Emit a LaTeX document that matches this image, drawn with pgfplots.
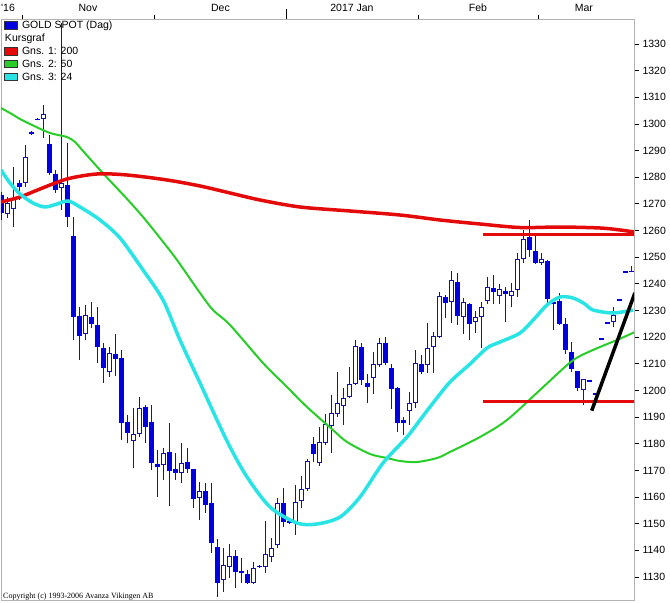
\documentclass[border=0pt]{standalone}
\usepackage{pgfplots}
\pgfplotsset{compat=1.18}
\usepackage{pgfplotstable}
\usepackage{fontspec}
\setmainfont{Liberation Sans}
\newfontfamily\serif{Liberation Serif}

\definecolor{cfill}{RGB}{0,0,225}
\definecolor{cline}{RGB}{20,20,150}
\definecolor{mared}{RGB}{228,10,10}
\definecolor{magreen}{RGB}{40,205,40}
\definecolor{macyan}{RGB}{40,228,228}
\definecolor{framegray}{RGB}{178,178,178}

% down (filled) candles: k O H L C
\pgfplotstableread{
k O H L C
0 1273.3 1274.5 1264.0 1266.6
3 1277.8 1279.0 1271.5 1276.3
5 1297.0 1297.3 1296.0 1296.2
6 1302.0 1302.2 1301.5 1301.5
8 1292.5 1295.9 1280.8 1281.6
9 1281.2 1282.7 1274.1 1275.2
11 1277.1 1292.8 1261.3 1265.1
12 1257.9 1265.1 1218.9 1227.5
13 1227.9 1231.3 1211.4 1220.4
15 1227.5 1233.2 1223.4 1224.9
16 1224.5 1231.3 1210.3 1216.3
17 1215.9 1217.8 1202.8 1208.4
19 1213.7 1221.2 1205.4 1211.8
20 1212.2 1215.2 1181.4 1187.8
21 1188.2 1190.8 1180.3 1184.0
24 1193.8 1194.5 1180.3 1186.3
25 1188.2 1194.5 1170.1 1172.8
26 1172.4 1177.7 1160.0 1171.3
28 1176.9 1187.8 1156.6 1169.8
29 1170.5 1176.5 1166.4 1169.0
31 1173.1 1178.4 1169.0 1170.5
32 1170.5 1170.6 1155.9 1159.3
34 1162.3 1165.3 1154.0 1157.0
35 1157.8 1165.3 1139.0 1142.8
36 1141.3 1144.3 1122.5 1127.8
39 1137.9 1140.1 1125.9 1131.9
40 1132.3 1137.1 1127.8 1131.5
41 1131.1 1132.6 1127.4 1127.8
43 1134.3 1134.5 1133.5 1133.7
47 1157.8 1163.4 1148.8 1150.6
48 1151.0 1151.3 1150.0 1150.3
52 1179.9 1182.5 1173.1 1176.2
60 1216.3 1217.8 1202.0 1203.9
61 1202.8 1206.2 1195.3 1201.3
64 1217.8 1220.0 1209.5 1210.3
65 1208.4 1209.9 1193.0 1200.5
66 1200.9 1201.2 1184.4 1187.8
67 1188.9 1190.0 1183.3 1187.8
70 1209.9 1213.3 1206.2 1206.9
74 1235.1 1235.8 1227.2 1232.8
76 1240.7 1244.1 1224.5 1227.9
78 1232.4 1232.8 1218.9 1224.9
82 1238.5 1243.3 1232.4 1236.9
84 1237.3 1238.8 1225.7 1236.2
88 1257.6 1264.0 1250.1 1252.7
89 1252.3 1257.9 1247.5 1247.8
91 1248.6 1248.9 1232.8 1234.3
92 1233.2 1233.9 1222.7 1232.4
93 1233.6 1236.5 1224.5 1224.9
94 1224.9 1227.2 1213.7 1215.2
95 1214.4 1218.2 1207.0 1208.0
96 1207.3 1207.4 1199.8 1200.9
98 1203.8 1203.9 1203.1 1203.2
99 1199.0 1199.1 1198.3 1198.4
100 1219.6 1219.7 1218.9 1219.0
101 1225.6 1225.7 1224.9 1225.0
103 1234.2 1234.3 1233.5 1233.6
104 1244.7 1244.8 1244.0 1244.1
105 1245.0 1246.7 1244.3 1244.4
}\canddown

% up (hollow) candles: k O H L C
\pgfplotstableread{
k O H L C
1 1266.2 1272.6 1264.7 1270.3
2 1268.1 1283.8 1261.3 1272.2
4 1277.8 1292.1 1276.3 1287.6
7 1301.9 1307.1 1294.7 1303.7
10 1276.0 1337.8 1267.7 1277.8
14 1221.2 1232.1 1218.9 1228.3
18 1206.9 1216.3 1205.0 1214.0
22 1181.0 1193.4 1170.9 1183.7
23 1183.7 1197.5 1182.5 1193.4
27 1172.0 1178.4 1166.4 1176.5
30 1169.0 1180.3 1165.3 1172.8
33 1159.6 1165.6 1151.4 1162.3
37 1128.9 1140.9 1124.4 1134.5
38 1133.8 1142.4 1129.6 1137.9
42 1127.8 1135.6 1127.4 1133.4
44 1133.8 1151.0 1131.5 1138.6
45 1137.5 1144.6 1135.6 1140.9
46 1142.0 1159.6 1140.9 1157.8
49 1150.3 1164.5 1145.8 1158.1
50 1158.5 1167.9 1155.9 1163.0
51 1163.0 1174.3 1162.3 1173.5
53 1172.8 1186.3 1171.6 1180.7
54 1180.3 1191.2 1179.5 1187.4
55 1186.7 1198.3 1176.5 1191.5
56 1191.2 1206.9 1190.0 1195.3
57 1194.2 1200.9 1187.0 1197.2
58 1197.5 1208.8 1197.2 1202.4
59 1202.4 1218.9 1202.0 1216.7
62 1204.7 1214.4 1198.7 1209.9
63 1209.5 1219.7 1208.8 1217.8
68 1192.3 1199.4 1187.0 1195.3
69 1195.3 1215.2 1193.4 1210.3
71 1209.5 1225.3 1206.5 1215.9
72 1216.3 1221.9 1206.5 1220.4
73 1220.0 1236.9 1219.7 1235.5
75 1233.2 1244.8 1225.3 1241.4
77 1227.5 1234.7 1221.2 1233.2
79 1225.7 1229.8 1221.5 1227.5
80 1227.5 1233.2 1215.9 1231.3
81 1233.6 1242.6 1232.4 1238.8
83 1235.5 1239.9 1232.4 1238.1
85 1235.5 1240.3 1231.3 1237.3
86 1237.7 1251.6 1235.1 1249.3
87 1249.3 1260.2 1247.8 1256.8
90 1247.8 1251.6 1247.1 1249.3
97 1200.2 1204.3 1194.5 1204.3
102 1225.7 1231.3 1223.8 1228.3
}\candup

\pgfplotsset{
  swatch/.style={legend image code/.code={\draw[fill=#1, draw=black!80, line width=0.8pt] (0pt,-3pt) rectangle (13pt,4.5pt);}},
  candle/.style n args={2}{forget plot, draw=none, mark=none,
    error bars/.cd, y dir=plus, y explicit, error mark=none,
    error bar style={draw=#1, line width=#2}},
}

\begin{document}
\begin{tikzpicture}
\useasboundingbox (-1pt,-3pt) rectangle (669pt,600pt);
\begin{axis}[
  at={(0pt,0pt)}, anchor=south west,
  scale only axis, width=633pt, height=581pt,
  xmin=-0.05, xmax=105.45, ymin=1121.37, ymax=1339.38,
  axis line style={framegray, line width=0.8pt},
  tick style={black, line width=0.8pt},
  tick align=outside,
  major tick length=5pt,
  minor tick length=4pt,
  xtick pos=upper, xticklabel pos=upper,
  ytick pos=right, yticklabel pos=right,
  xtick={1.12,14.45,36.53,58.45,79.45,97.1},
  xticklabels={\textquotesingle16, Nov, Dec, 2017 Jan, Feb, Mar},
  major x tick style={draw=none},
  minor xtick={3.5,25.5,47.5,69.5,89.5},
  xticklabel style={yshift=-1pt},
  ytick={1130,1140,...,1330},
  ticklabel style={font=\fontsize{10.5}{12}\selectfont},
  /pgf/number format/.cd, assume math mode=true, 1000 sep={},
  /pgfplots/.cd,
  legend style={at={(0,1)}, anchor=north west, xshift=3pt, yshift=-2pt,
    draw=none, fill=none, inner sep=0pt, row sep=2.9pt, column sep=4pt,
    font=\fontsize{10.5}{12}\selectfont,
    nodes={inner sep=0pt, text height=7.5pt, text depth=2.5pt}},
  legend cell align=left,
]
\addlegendimage{swatch=cfill}
\addlegendentry{GOLD SPOT (Dag)}
\addlegendimage{empty legend}
\addlegendentry{\hspace*{-17pt}Kursgraf}
\addlegendimage{swatch=mared}
\addlegendentry{Gns. 1: 200}
\addlegendimage{swatch=magreen}
\addlegendentry{Gns. 2: 50}
\addlegendimage{swatch=macyan}
\addlegendentry{Gns. 3: 24}

% wicks
\addplot[candle={cline}{1pt}]
  table[x=k, y=L, y error plus expr=\thisrow{H}-\thisrow{L}] {\canddown};
\addplot[candle={cline}{1pt}]
  table[x=k, y=L, y error plus expr=\thisrow{H}-\thisrow{L}] {\candup};
% bodies
\addplot[candle={cfill}{5pt}]
  table[x=k, y=C, y error plus expr=\thisrow{O}-\thisrow{C}] {\canddown};
\addplot[candle={cline}{5pt}]
  table[x=k, y=O, y error plus expr=\thisrow{C}-\thisrow{O}] {\candup};
\addplot[candle={white}{3pt}]
  table[x=k, y expr=\thisrow{O}+0.375, y error plus expr=\thisrow{C}-\thisrow{O}-0.75] {\candup};

% Gns. 2: 50
\addplot[forget plot, magreen, line width=2pt, smooth] coordinates {
(-0.05,1305.99) (1.45,1304.11) (3.12,1301.86) (4.78,1299.98) (8.12,1296.60)
(10.95,1295.10) (12.28,1293.23) (13.62,1289.85) (16.45,1282.72) (18.62,1277.47)
(21.12,1271.46) (23.62,1265.09) (26.45,1257.21) (29.28,1248.95) (33.12,1236.57)
(35.28,1230.19) (38.12,1224.56) (43.62,1210.30) (47.28,1202.05) (50.95,1193.79)
(55.28,1185.16) (57.62,1180.66) (61.45,1176.16) (64.28,1174.65) (66.45,1173.53)
(69.28,1173.15) (72.62,1174.65) (74.78,1176.91) (79.78,1182.53) (84.28,1188.91)
(89.78,1200.17) (95.12,1211.05) (98.62,1215.18) (102.62,1218.93) (105.62,1221.93)
};
% Gns. 1: 200
\addplot[forget plot, mared, line width=3.5pt, smooth] coordinates {
(-0.05,1270.71) (3.12,1272.59) (6.45,1275.59) (10.95,1279.35) (15.95,1281.22)
(20.95,1280.85) (27.62,1278.97) (33.12,1276.72) (38.12,1274.09) (43.12,1271.46)
(49.78,1268.84) (58.12,1267.34) (66.45,1265.83) (73.12,1263.96) (79.78,1262.46)
(86.45,1261.14) (93.12,1261.33) (99.78,1260.96) (103.12,1260.21) (105.45,1259.46)
};
% Gns. 3: 24
\addplot[forget plot, macyan, line width=3.5pt, smooth] coordinates {
(-0.05,1282.72) (1.45,1277.84) (3.12,1273.72) (5.28,1270.34) (7.28,1268.84)
(9.28,1269.96) (11.12,1271.09) (13.12,1268.84) (16.45,1263.96) (19.78,1257.21)
(23.62,1245.20) (26.95,1233.94) (29.78,1218.93) (33.12,1202.80) (35.95,1188.91)
(38.12,1178.78) (40.95,1167.53) (44.78,1156.27) (49.28,1150.26) (52.62,1149.89)
(56.45,1152.52) (59.78,1160.02) (63.62,1172.78) (67.62,1182.53) (69.78,1188.91)
(71.95,1195.29) (74.78,1203.17) (78.12,1209.93) (80.95,1215.93) (83.12,1218.18)
(86.45,1221.56) (88.95,1227.19) (90.95,1232.06) (93.12,1235.07) (95.28,1234.69)
(97.28,1232.44) (98.62,1230.19) (101.95,1229.06) (105.28,1230.19)
};
% drawn support / resistance lines
\addplot[forget plot, mared, line width=3pt] coordinates {(80.28,1258.7) (106,1258.7)};
\addplot[forget plot, mared, line width=3pt] coordinates {(80.28,1196.0) (106,1196.0)};
\addplot[forget plot, black, line width=3.5pt] coordinates {(98.4,1192.4) (105.6,1236.6)};

\coordinate (jan) at (axis cs:47.5,1339.38);
\node[anchor=base west, font=\serif\fontsize{8}{9}\selectfont, inner sep=0pt, xshift=2pt, yshift=2pt]
  at (rel axis cs:0,0) {Copyright (c) 1993-2006 Avanza Vikingen AB};
\end{axis}
\draw[black, line width=1pt] (jan) -- ++(0pt,10pt);
\end{tikzpicture}
\end{document}
